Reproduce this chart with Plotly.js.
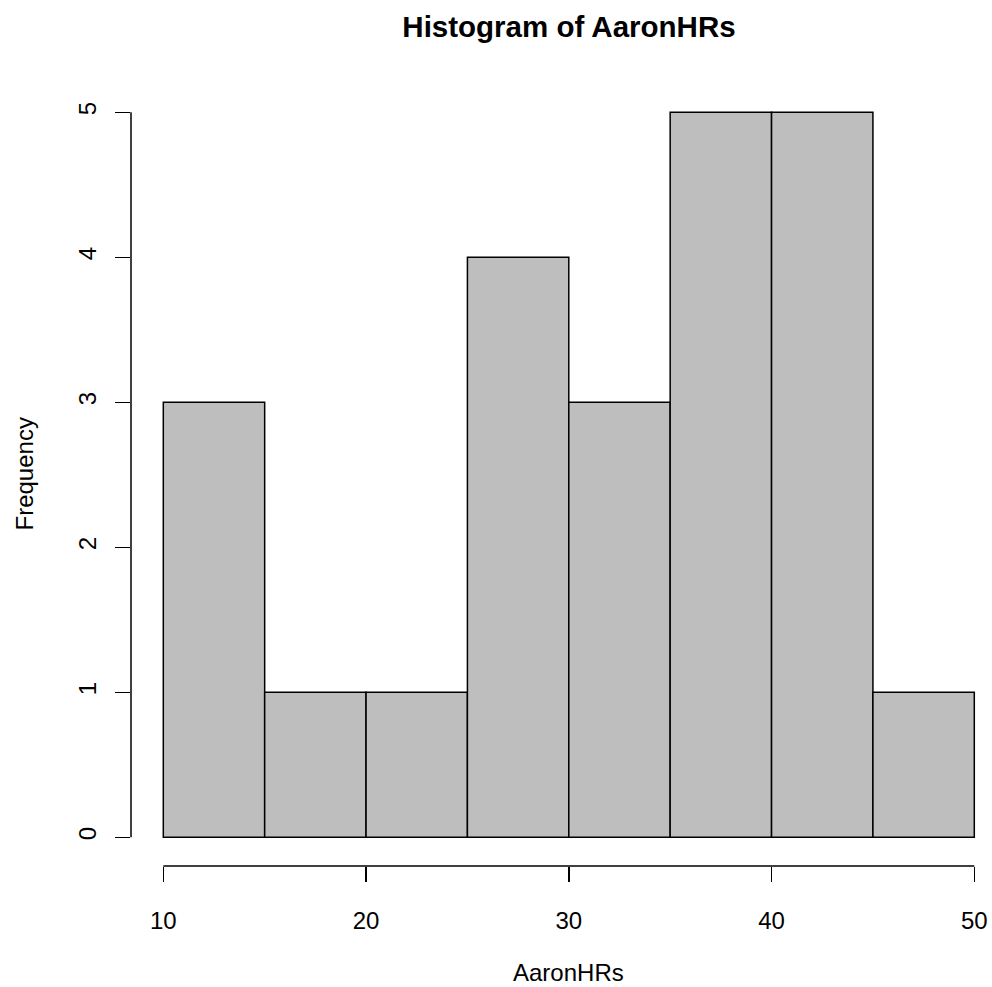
<!DOCTYPE html>
<html>
<head>
<meta charset="utf-8">
<script src="https://cdn.plot.ly/plotly-3.0.1.min.js"></script>
<style>html,body{margin:0;padding:0;background:#fff;}#chart{width:992px;height:987px;}</style>
</head>
<body>
<div id="chart"></div>
<script>
// Histogram data (R hist of AaronHRs)
const breaks = [10, 15, 20, 25, 30, 35, 40, 45, 50];
const counts = [3, 1, 1, 4, 3, 5, 5, 1];
const xTicks = [10, 20, 30, 40, 50];
const yTicks = [0, 1, 2, 3, 4, 5];
const titleText = "Histogram of AaronHRs";
const xLabel = "AaronHRs";
const yLabel = "Frequency";

const mids = counts.map((c, i) => (breaks[i] + breaks[i + 1]) / 2);
const widths = counts.map((c, i) => breaks[i + 1] - breaks[i]);

const FONT = '"Liberation Sans", Arial, Helvetica, sans-serif';
const LW = 1.5;

const trace = {
  type: 'bar',
  x: mids,
  y: counts,
  width: widths,
  marker: { color: '#BEBEBE', line: { color: '#000000', width: LW } },
  hoverinfo: 'x+y'
};

const layout = {
  width: 992,
  height: 987,
  margin: { l: 131, r: 0, t: 83, b: 121, pad: 0 },
  paper_bgcolor: '#ffffff',
  plot_bgcolor: '#ffffff',
  showlegend: false,
  font: { family: FONT, size: 24, color: '#000000' },
  title: {
    text: '<b>' + titleText + '</b>',
    font: { family: FONT, size: 29.5, color: '#000000' },
    xref: 'paper', x: 0.5087, xanchor: 'center',
    yref: 'container', y: 1 - 27 / 987, yanchor: 'middle'
  },
  xaxis: {
    range: [8.407, 50.873],
    tickvals: xTicks,
    ticktext: xTicks.map(String),
    ticks: 'outside', ticklen: 15, tickwidth: LW, tickcolor: '#000000',
    showline: false, showgrid: false, zeroline: false,
    tickfont: { family: FONT, size: 24, color: '#000000' },
    ticklabelstandoff: 18,
    fixedrange: true
  },
  yaxis: {
    range: [-0.198, 5.202],
    tickvals: yTicks,
    ticktext: yTicks.map(String),
    tickangle: -90,
    ticks: 'outside', ticklen: 15, tickwidth: LW, tickcolor: '#000000',
    showline: false, showgrid: false, zeroline: false,
    tickfont: { family: FONT, size: 24, color: '#000000' },
    ticklabelstandoff: 9,
    fixedrange: true
  },
  shapes: [
    { type: 'line', xref: 'x', yref: 'paper', x0: xTicks[0], x1: xTicks[xTicks.length - 1], y0: 0, y1: 0,
      line: { color: '#000000', width: LW } },
    { type: 'line', xref: 'paper', yref: 'y', x0: 0, x1: 0, y0: yTicks[0], y1: yTicks[yTicks.length - 1],
      line: { color: '#000000', width: LW } }
  ],
  annotations: [
    { text: xLabel, xref: 'paper', x: 0.5087, xanchor: 'center',
      yref: 'paper', y: 0, yanchor: 'middle', yshift: -(972 - 866),
      showarrow: false, font: { family: FONT, size: 24, color: '#000000' } },
    { text: yLabel, xref: 'paper', x: 0, xanchor: 'center', xshift: -(131 - 24),
      yref: 'paper', y: 0.5, yanchor: 'middle', textangle: -90,
      showarrow: false, font: { family: FONT, size: 24, color: '#000000' } }
  ]
};

Plotly.newPlot('chart', [trace], layout, { displayModeBar: false, staticPlot: true });
</script>
</body>
</html>
